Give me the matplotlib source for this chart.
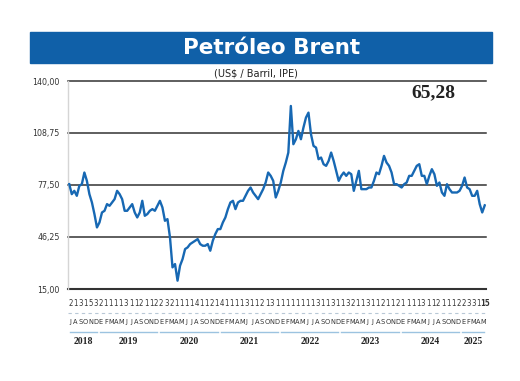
import numpy as np
import matplotlib
matplotlib.use('Agg')
import matplotlib.pyplot as plt
import matplotlib.transforms as mtransforms
from matplotlib.patches import Rectangle

# Brent, US$/barril, two readings per month (1st half, 2nd half), Jul 2018 - May 2025
brent_2018 = [78, 72, 74, 71, 77, 78, 85, 80, 72, 67, 60, 52]
brent_2019 = [55, 61, 62, 66, 65, 67, 69, 74, 72, 69, 62, 62,
              64, 66, 61, 58, 61, 68, 59, 60, 62, 63, 62, 65]
brent_2020 = [68, 64, 56, 57, 46, 28, 30, 20, 29, 33, 39, 40,
              42, 43, 44, 45, 42, 41, 41, 42, 38, 44, 48, 51]
brent_2021 = [51, 55, 58, 63, 67, 68, 63, 67, 68, 68, 71, 74,
              76, 73, 71, 69, 72, 75, 79, 85, 83, 80, 70, 74]
brent_2022 = [79, 86, 91, 97, 125, 102, 105, 110, 105, 112, 118, 121,
              108, 101, 100, 93, 94, 90, 89, 92, 97, 92, 86, 80]
brent_2023 = [83, 85, 83, 85, 84, 74, 80, 86, 75, 75, 75, 76,
              76, 80, 85, 84, 89, 95, 91, 89, 85, 78, 78, 77]
brent_2024 = [76, 78, 79, 83, 83, 86, 89, 90, 83, 83, 78, 83,
              87, 84, 77, 79, 73, 71, 78, 75, 73, 73, 73, 74]
brent_2025 = [77, 82, 76, 75, 71, 71, 74, 66, 61, 65.28]

last_value = "65,28"
years = [2018, 2019, 2020, 2021, 2022, 2023, 2024, 2025]
months_per_year = [6, 12, 12, 12, 12, 12, 12, 5]
month_letters = ["E", "F", "M", "A", "M", "J", "J", "A", "S", "O", "N", "D"]
top_digits = list("2131532111131121122321111411214111131121"
                  "311111111311311321131121121111311211122331") + ["15"]
y_ticks = [15, 46.25, 77.5, 108.75, 140]
y_labels = ["15,00", "46,25", "77,50", "108,75", "140,00"]

blue = '#1060a8'
line_blue = '#1768b3'
narrow = dict(family='DejaVu Sans', fontstretch='condensed')

prices = np.array(brent_2018 + brent_2019 + brent_2020 + brent_2021 +
                  brent_2022 + brent_2023 + brent_2024 + brent_2025)
n_months = sum(months_per_year)
x = np.arange(len(prices)) * 0.5 + 0.25

fig = plt.figure(figsize=(5.2, 3.81), dpi=100)
ax = fig.add_axes([68 / 520, 1 - 289 / 381, 418 / 520, 208 / 381])

ax.plot(x, prices, color=line_blue, lw=1.7, solid_joinstyle='round', zorder=3)

ax.set_xlim(0, n_months)
ax.set_ylim(15, 140)
for v in y_ticks:
    lw = 1.5 if v == 15 else 1.1
    ax.axhline(v, color='#333333', lw=lw, zorder=2, clip_on=False)

for s in ['top', 'right', 'bottom']:
    ax.spines[s].set_visible(False)
ax.spines['left'].set_color('#d5d5d5')
ax.spines['left'].set_linewidth(1)
ax.set_xticks([])
ax.set_yticks(y_ticks)
ax.set_yticklabels(y_labels, fontsize=6.3, color='#333333', **narrow)
ax.tick_params(axis='y', length=0, pad=6)

# banner title
fig.patches.append(Rectangle((30 / 520, 1 - 63 / 381), 462 / 520, 31 / 381,
                             transform=fig.transFigure, color=blue, zorder=0))
fig.text(272 / 520, 1 - 48 / 381, "Petróleo Brent", color='white',
         family='DejaVu Sans', fontweight='bold', fontsize=15.5,
         ha='center', va='center')
fig.text(256 / 520, 1 - 73.5 / 381, "(US$ / Barril, IPE)", fontsize=7.8,
         color='#222222', ha='center', va='center', **narrow)
fig.text(433 / 520, 1 - 92.5 / 381, last_value, family='Liberation Serif',
         fontweight='bold', fontsize=14, color='#222222',
         ha='center', va='center')

# month axis below the plot
trans = mtransforms.blended_transform_factory(ax.transData, fig.transFigure)

for i in range(n_months):
    d = top_digits[i] if i < len(top_digits) else ""
    bold = len(d) > 1
    xpos = i + 0.5 + (0.25 if bold else 0)
    fig.text(0, 0, d, transform=trans, fontsize=5.6,
             fontweight='bold' if bold else 'normal', color='#333333',
             ha='center', va='center', **narrow).set_position((xpos, 1 - 303 / 381))
    letter = month_letters[(i + 6) % 12]
    fig.text(0, 0, letter, transform=trans, fontsize=5.3,
             color='#333333', ha='center', va='center',
             **narrow).set_position((i + 0.5, 1 - 322 / 381))

ax.plot([0, n_months], [1 - 313 / 381] * 2, transform=trans, clip_on=False,
        color='#b8c8d6', lw=0.8, ls=(0, (3, 3)))

start = 0
for yr, nm in zip(years, months_per_year):
    ax.plot([start + 0.3, start + nm - 0.3], [1 - 332 / 381] * 2, transform=trans,
            clip_on=False, color='#9cc3e0', lw=1)
    fig.text(0, 0, str(yr), transform=trans, family='Liberation Serif',
             fontweight='bold', fontsize=7, color='#222222',
             ha='center', va='center').set_position((start + nm / 2, 1 - 342 / 381))
    start += nm

fig.savefig('out.png', dpi=100)
